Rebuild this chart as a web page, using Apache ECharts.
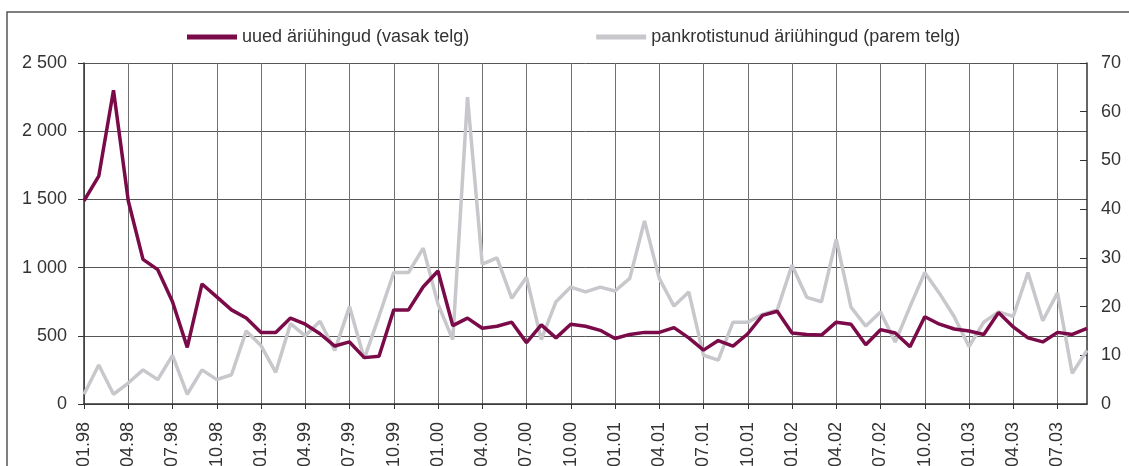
<!DOCTYPE html>
<html>
<head>
<meta charset="utf-8">
<script src="https://cdn.jsdelivr.net/npm/echarts@6/dist/echarts.min.js"></script>
<style>
  html, body { margin: 0; padding: 0; background: #fff; }
  #chart { width: 1129px; height: 466px; }
</style>
</head>
<body>
<div id="chart"></div>
<script>
// kuud 01.98 ... 09.03
const months = [
  "01.98", "02.98", "03.98", "04.98", "05.98", "06.98", "07.98", "08.98", "09.98", "10.98", "11.98", "12.98",
  "01.99", "02.99", "03.99", "04.99", "05.99", "06.99", "07.99", "08.99", "09.99", "10.99", "11.99", "12.99",
  "01.00", "02.00", "03.00", "04.00", "05.00", "06.00", "07.00", "08.00", "09.00", "10.00", "11.00", "12.00",
  "01.01", "02.01", "03.01", "04.01", "05.01", "06.01", "07.01", "08.01", "09.01", "10.01", "11.01", "12.01",
  "01.02", "02.02", "03.02", "04.02", "05.02", "06.02", "07.02", "08.02", "09.02", "10.02", "11.02", "12.02",
  "01.03", "02.03", "03.03", "04.03", "05.03", "06.03", "07.03", "08.03", "09.03"
];

// uued äriühingud (vasak telg)
const newCompanies = [
  1490, 1670, 2300, 1490, 1060, 985, 750, 415, 880, 785, 690, 630,
  525, 525, 630, 585, 515, 425, 455, 340, 350, 690, 690, 860,
  975, 575, 630, 555, 570, 600, 450, 580, 485, 585, 570, 540,
  480, 510, 525, 525, 560, 485, 395, 465, 425, 515, 650, 680,
  520, 510, 505, 600, 585, 435, 545, 520, 420, 640, 585, 550,
  535, 510, 670, 565, 485, 455, 525, 510, 555
];

// pankrotistunud äriühingud (parem telg)
const bankruptCompanies = [
  2, 8, 2, 4.3, 7, 5, 10, 2, 7, 5, 6, 15,
  12, 6.5, 16.5, 14, 17, 11, 20, 9.3, 18, 27, 27, 32,
  20.5, 13.2, 63, 28.7, 30, 21.7, 26, 13.2, 21, 24, 23, 24,
  23.2, 25.8, 37.6, 25.8, 20.1, 23, 10, 9, 16.8, 16.8, 18.4, 19.3,
  28.5, 21.9, 21, 33.8, 19.9, 16, 18.9, 12.7, 20, 27, 22.7, 17.9,
  11.8, 16.8, 18.9, 18, 27, 17.1, 22.8, 6.3, 11
];

const leftTicks = [0, 500, 1000, 1500, 2000, 2500];
const rightTicks = [0, 10, 20, 30, 40, 50, 60, 70];

const textColor = "#333";
const fontFamily = "Liberation Sans, Arial, sans-serif";

const fmtThousands = (v) => String(v).replace(/\B(?=(\d{3})+(?!\d))/g, " ");

var myChart = echarts.init(document.getElementById("chart"));

var option = {
  backgroundColor: "#fff",
  animation: false,
  textStyle: { fontFamily: fontFamily },
  graphic: [
    {
      type: "rect",
      shape: { x: 7, y: 12, width: 1200, height: 500 },
      style: { fill: "none", stroke: "#555", lineWidth: 1.5 },
      silent: true,
    },
  ],
  legend: {
    left: 187,
    top: 28,
    padding: 0,
    itemWidth: 50,
    itemHeight: 5,
    itemGap: 127,
    icon: "rect",
    textStyle: { color: textColor, fontSize: 18, fontFamily: fontFamily },
    data: ["uued äriühingud (vasak telg)", "pankrotistunud äriühingud (parem telg)"],
  },
  grid: {
    left: 84,
    right: 42,
    top: 63,
    bottom: 62,
    containLabel: false,
    outerBoundsMode: "none",
  },
  xAxis: {
    type: "category",
    data: months,
    boundaryGap: false,
    axisLine: { lineStyle: { color: "#333", width: 1.5 } },
    axisTick: { show: true, interval: 2, length: 5, lineStyle: { color: "#333" } },
    axisLabel: {
      interval: 2,
      rotate: 90,
      margin: 18,
      fontSize: 18,
      color: textColor,
    },
    splitLine: { show: true, interval: 2, lineStyle: { color: "#707070", width: 1 } },
  },
  yAxis: [
    {
      type: "value",
      min: leftTicks[0],
      max: leftTicks[leftTicks.length - 1],
      interval: 500,
      axisLine: { show: true, lineStyle: { color: "#333", width: 1.5 } },
      axisTick: { show: true, length: 6, lineStyle: { color: "#333" } },
      axisLabel: { fontSize: 18, color: textColor, margin: 17, formatter: fmtThousands },
      splitLine: { show: true, lineStyle: { color: "#555", width: 1 } },
    },
    {
      type: "value",
      min: rightTicks[0],
      max: rightTicks[rightTicks.length - 1],
      interval: 10,
      position: "right",
      axisLine: { show: true, lineStyle: { color: "#333", width: 1.5 } },
      axisTick: { show: true, inside: true, length: 7, lineStyle: { color: "#333" } },
      axisLabel: { fontSize: 18, color: textColor, margin: 14 },
      splitLine: { show: false },
    },
  ],
  series: [
    {
      name: "pankrotistunud äriühingud (parem telg)",
      type: "line",
      yAxisIndex: 1,
      data: bankruptCompanies,
      symbol: "none",
      color: "#c8c8cc",
      lineStyle: { color: "#c8c8cc", width: 3.5 },
      z: 2,
    },
    {
      name: "uued äriühingud (vasak telg)",
      type: "line",
      yAxisIndex: 0,
      data: newCompanies,
      symbol: "none",
      color: "#7a0a48",
      lineStyle: { color: "#7a0a48", width: 3.5 },
      z: 3,
    },
  ],
};

myChart.setOption(option);
</script>
</body>
</html>
